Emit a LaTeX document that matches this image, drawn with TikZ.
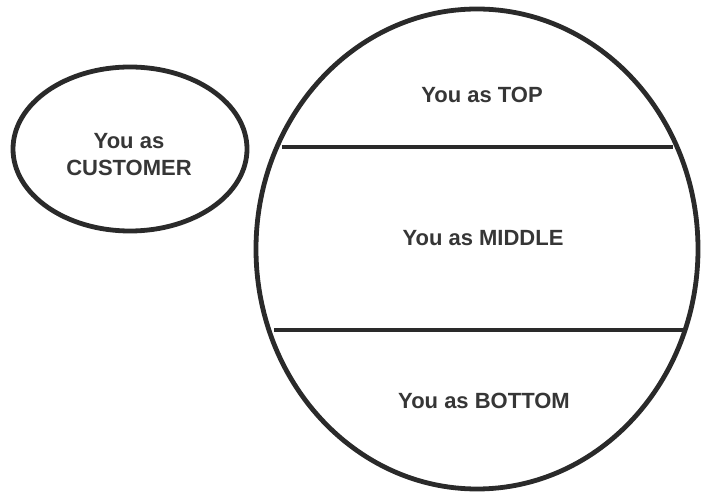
\documentclass[tikz,border=0pt]{standalone}
\usepackage{fontspec}
\setmainfont{Liberation Sans}
\definecolor{ink}{HTML}{2A2A2A}
\definecolor{txt}{HTML}{363636}
\begin{document}
\begin{tikzpicture}[x=1pt,y=-1pt,
  outline/.style={draw=ink,line width=4.8pt},
  divider/.style={draw=ink,line width=3.2pt},
  label/.style={text=txt,font=\fontsize{22}{27}\selectfont\bfseries,align=center,inner sep=0pt}]
  \useasboundingbox (0,0) rectangle (702,494);
  % customer ellipse
  \draw[outline] (130,149) ellipse [x radius=117pt, y radius=82pt];
  \node[label] (cust) at (129,155) {You as\\CUSTOMER};
  % organisation ellipse with its three layers
  \draw[outline] (477,249) ellipse [x radius=221pt, y radius=240pt];
  \coordinate (t1) at (282,147);
  \coordinate (t2) at (673,147);
  \coordinate (b1) at (274,330);
  \coordinate (b2) at (686,330);
  \draw[divider] (t1) -- (t2);
  \draw[divider] (b1) -- (b2);
  \node[label] (top) at (482,95) {You as TOP};
  \node[label] (mid) at (483,238) {You as MIDDLE};
  \node[label] (bot) at (484,401) {You as BOTTOM};
\end{tikzpicture}
\end{document}
